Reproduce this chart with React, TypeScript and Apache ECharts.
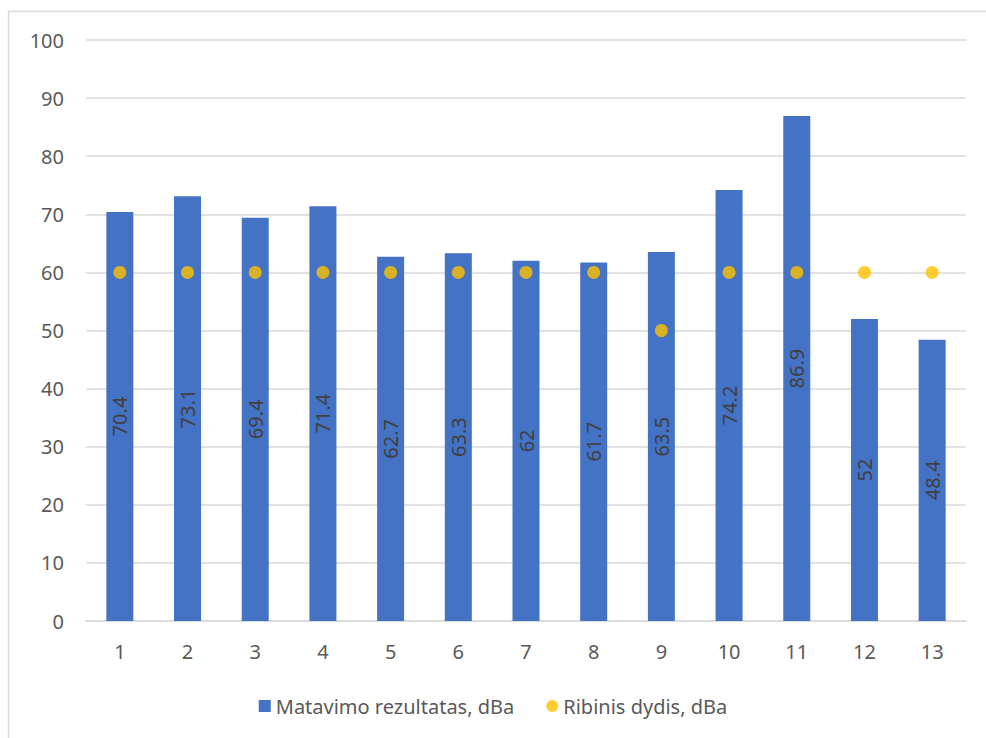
import React, { useEffect, useRef } from "react";
import * as echarts from "echarts";

const categories = ["1", "2", "3", "4", "5", "6", "7", "8", "9", "10", "11", "12", "13"];
const measured = [70.4, 73.1, 69.4, 71.4, 62.7, 63.3, 62, 61.7, 63.5, 74.2, 86.9, 52, 48.4];
const limit = [60, 60, 60, 60, 60, 60, 60, 60, 50, 60, 60, 60, 60];
const seriesNames = ["Matavimo rezultatas, dBa", "Ribinis dydis, dBa"];

const FONT = "Noto Sans";

export default function App() {
  const ref = useRef<HTMLDivElement>(null);
  useEffect(() => {
    if (!ref.current) return;
    const chart = echarts.init(ref.current, undefined, { renderer: "svg" });
    chart.setOption({
      animation: false,
      backgroundColor: "#ffffff",
      textStyle: { fontFamily: FONT },
      graphic: [
        {
          type: "rect",
          shape: { x: 8.5, y: 11.5, width: 1000, height: 1000 },
          style: { fill: "none", stroke: "#d9d9d9", lineWidth: 1.5 },
          silent: true,
        },
      ],
      grid: { left: 86, right: 20, top: 40, bottom: 117, containLabel: false },
      xAxis: {
        type: "category",
        data: categories,
        axisLine: { show: true, lineStyle: { color: "#d9d9d9", width: 1.5 } },
        axisTick: { show: false },
        axisLabel: { color: "#595959", fontSize: 20, fontFamily: FONT, margin: 20 },
      },
      yAxis: {
        type: "value",
        min: 0,
        max: 100,
        interval: 10,
        axisLine: { show: false },
        axisTick: { show: false },
        splitLine: { lineStyle: { color: "#d9d9d9", width: 1.5 } },
        axisLabel: { color: "#595959", fontSize: 20, fontFamily: FONT, margin: 22 },
      },
      legend: {
        bottom: 17,
        left: "center",
        itemWidth: 12,
        itemHeight: 12,
        itemGap: 32,
        textStyle: { color: "#595959", fontSize: 20, fontFamily: FONT },
        data: [
          { name: seriesNames[0], icon: "rect" },
          { name: seriesNames[1], icon: "circle" },
        ],
      },
      series: [
        {
          name: seriesNames[0],
          type: "bar",
          data: measured,
          barWidth: 27,
          itemStyle: { color: "#4472C4" },
          label: {
            show: true,
            position: "inside",
            rotate: 90,
            color: "#404040",
            fontSize: 20,
            fontFamily: FONT,
          },
        },
        {
          name: seriesNames[1],
          type: "scatter",
          data: limit,
          symbol: "circle",
          symbolSize: 13,
          itemStyle: { color: "#FFC000" },
          z: 5,
        },
      ],
    });
    return () => chart.dispose();
  }, []);
  return (
    <div
      ref={ref}
      style={{ position: "absolute", left: 0, top: 0, width: 986, height: 738 }}
    />
  );
}
